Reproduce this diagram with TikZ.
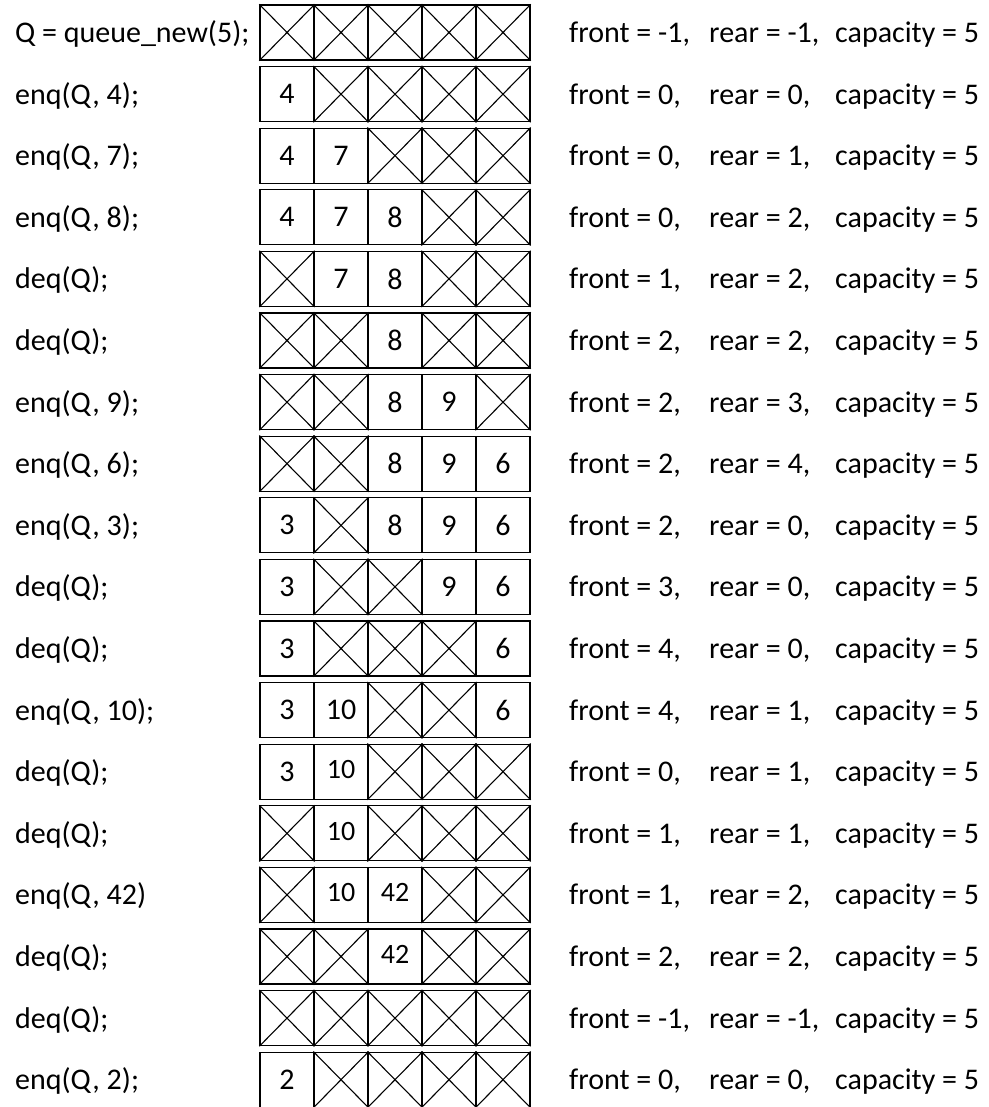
\documentclass[tikz,border=0pt]{standalone}
\usepackage{fontspec}
\setmainfont{Carlito}

\begin{document}
\begin{tikzpicture}[x=1pt, y=-1pt,
    cell/.style ={draw, line width=1.3pt, minimum width=54pt, minimum height=55pt,
                  inner sep=0pt, font=\fontsize{30}{36}\selectfont},
    op/.style   ={anchor=base west, inner sep=0pt, font=\fontsize{30}{36}\selectfont},
    cross/.style={line width=1.1pt},
]
\useasboundingbox (0,0) rectangle (988,1107);
% one row per call: slots (0 = empty, negative = set a bit higher), front, rear
\foreach \call/\vals/\fr/\re [count=\r from 0] in {
    {Q = queue\_new(5);}/{0,0,0,0,0}/-1/-1,
    {enq(Q, 4);}/{4,0,0,0,0}/0/0,
    {enq(Q, 7);}/{4,7,0,0,0}/0/1,
    {enq(Q, 8);}/{4,7,8,0,0}/0/2,
    {deq(Q);}/{0,7,8,0,0}/1/2,
    {deq(Q);}/{0,0,8,0,0}/2/2,
    {enq(Q, 9);}/{0,0,8,9,0}/2/3,
    {enq(Q, 6);}/{0,0,8,9,6}/2/4,
    {enq(Q, 3);}/{3,0,8,9,6}/2/0,
    {deq(Q);}/{3,0,0,9,6}/3/0,
    {deq(Q);}/{3,0,0,0,6}/4/0,
    {enq(Q, 10);}/{3,10,0,0,6}/4/1,
    {deq(Q);}/{3,-10,0,0,0}/0/1,
    {deq(Q);}/{0,-10,0,0,0}/1/1,
    {enq(Q, 42)}/{0,-10,-42,0,0}/1/2,
    {deq(Q);}/{0,0,-42,0,0}/2/2,
    {deq(Q);}/{0,0,0,0,0}/-1/-1,
    {enq(Q, 2);}/{2,0,0,0,0}/0/0%
  }{
  \pgfmathsetmacro{\yc}{32.5+61.6*\r}
  % call on the left
  \node[op] (call\r) at (15,\yc+10) {\call};
  % five slots, empty ones crossed out
  \foreach \v [count=\c from 0] in \vals {
    \node[cell] (s\r-\c) at (287+54*\c,\yc)
      {\ifnum\v>0 \v\else\ifnum\v<0 \raisebox{4pt}{\fontsize{28}{32}\selectfont\number-\v}\fi\fi};
    \ifnum\v=0
      \draw[cross] (s\r-\c.north west) -- (s\r-\c.south east)
                   (s\r-\c.south west) -- (s\r-\c.north east);
    \fi
  }
  % indices
  \node[op] (fr\r)  at (569,\yc+10) {front = \fr,};
  \node[op] (re\r)  at (709,\yc+10) {rear = \re,};
  \node[op] (cap\r) at (835,\yc+10) {capacity = 5};
}
\end{tikzpicture}
\end{document}
